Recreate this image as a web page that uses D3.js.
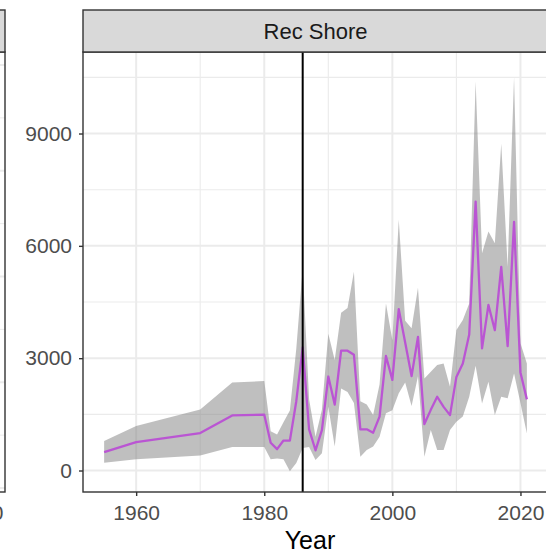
<!DOCTYPE html>
<html>
<head>
<meta charset="utf-8">
<script src="https://cdn.jsdelivr.net/npm/d3@7"></script>
<style>
  body { margin: 0; background: #fff; }
  svg { display: block; font-family: "Liberation Sans", Arial, sans-serif; }
</style>
</head>
<body>
<svg id="chart" width="546" height="555"></svg>
<script>
// values
const years = [1955, 1960, 1970, 1975, 1980, 1981, 1982, 1983, 1984, 1985, 1986, 1987, 1988, 1989,
  1990, 1991, 1992, 1993, 1994, 1995, 1996, 1997, 1998, 1999, 2000, 2001, 2002, 2003, 2004,
  2005, 2006, 2007, 2008, 2009, 2010, 2011, 2012, 2013, 2014, 2015, 2016, 2017, 2018, 2019, 2020, 2021];
const estimate = [490, 760, 1000, 1470, 1490, 740, 570, 800, 800, 1850, 3290, 1100, 540, 1080,
  2510, 1760, 3200, 3200, 3090, 1100, 1100, 1010, 1440, 3060, 2420, 4310, 3420, 2520, 3570,
  1240, 1620, 1970, 1700, 1480, 2500, 2860, 3630, 7180, 3260, 4420, 3750, 5440, 3320, 6640, 2620, 1900];
const upper = [790, 1190, 1630, 2350, 2390, 1050, 960, 1290, 1600, 3250, 5400, 1900, 900, 1620,
  3650, 2950, 4210, 4340, 5310, 1850, 1760, 1480, 2300, 4460, 3480, 6700, 4000, 3800, 4880,
  2460, 2640, 2820, 2860, 2240, 3750, 4020, 4460, 10390, 5800, 6380, 6070, 8730, 5440, 10500, 3400, 2860];
const lower = [210, 300, 400, 630, 630, 300, 320, 300, -20, 200, 600, 630, 280, 460,
  1700, 640, 2190, 2100, 1800, 370, 550, 640, 900, 1530, 1610, 2060, 2350, 1720, 2520,
  370, 1080, 550, 550, 1080, 1300, 1440, 1970, 2800, 1790, 2370, 1480, 1970, 1930, 2590, 1800, 990];

const xTicks = [1960, 1980, 2000, 2020];
const xMinor = [1970, 1990, 2010];
const yTicks = [0, 3000, 6000, 9000];
const yMinor = [1500, 4500, 7500, 10500];
const stripLabel = "Rec Shore";
const xTitle = "Year";
const markerYear = 1986;

const data = years.map((yr, i) => ({ year: yr, est: estimate[i], lo: lower[i], hi: upper[i] }));

const svg = d3.select("#chart");

// panel box
const panel = { left: 83, right: 548, top: 52, bottom: 492 };
const strip = { top: 10, bottom: 52 };

const x = d3.scaleLinear().domain([1951.7, 2024.3]).range([panel.left, panel.right]);
const y = d3.scaleLinear().domain([-574, 11177]).range([panel.bottom, panel.top]);

// neighbouring facet, only its right edge is in view
const leftY = d3.scaleLinear().domain([0, 8]).range([488, 65]);
svg.append("g").selectAll("line")
  .data(d3.range(0, 8.5, 1))
  .join("line")
  .attr("x1", -10).attr("x2", 5)
  .attr("y1", d => leftY(d)).attr("y2", d => leftY(d))
  .attr("stroke", "#EBEBEB")
  .attr("stroke-width", (d, i) => i % 2 ? 1 : 2);
svg.append("rect")
  .attr("x", -10).attr("y", panel.top).attr("width", 15).attr("height", panel.bottom - panel.top)
  .attr("fill", "none").attr("stroke", "#333333").attr("stroke-width", 1.4);
svg.append("rect")
  .attr("x", -10).attr("y", strip.top).attr("width", 15).attr("height", strip.bottom - strip.top)
  .attr("fill", "#D9D9D9").attr("stroke", "#333333").attr("stroke-width", 1.4);
svg.append("text")
  .attr("x", -20).attr("y", 520)
  .attr("text-anchor", "middle")
  .attr("font-size", 21).attr("fill", "#4D4D4D")
  .text("2020");

// grid
const grid = svg.append("g");
grid.selectAll(".ymin").data(yMinor).join("line")
  .attr("x1", panel.left).attr("x2", panel.right)
  .attr("y1", d => y(d)).attr("y2", d => y(d))
  .attr("stroke", "#EBEBEB").attr("stroke-width", 1.1);
grid.selectAll(".xmin").data(xMinor).join("line")
  .attr("y1", panel.top).attr("y2", panel.bottom)
  .attr("x1", d => x(d)).attr("x2", d => x(d))
  .attr("stroke", "#EBEBEB").attr("stroke-width", 1.1);
grid.selectAll(".ymaj").data(yTicks).join("line")
  .attr("x1", panel.left).attr("x2", panel.right)
  .attr("y1", d => y(d)).attr("y2", d => y(d))
  .attr("stroke", "#EBEBEB").attr("stroke-width", 2);
grid.selectAll(".xmaj").data(xTicks).join("line")
  .attr("y1", panel.top).attr("y2", panel.bottom)
  .attr("x1", d => x(d)).attr("x2", d => x(d))
  .attr("stroke", "#EBEBEB").attr("stroke-width", 2);

// ribbon + estimate line
const band = d3.area()
  .x(d => x(d.year))
  .y0(d => y(d.lo))
  .y1(d => y(d.hi));
svg.append("path")
  .datum(data)
  .attr("d", band)
  .attr("fill", "#808080")
  .attr("fill-opacity", 0.5);

const line = d3.line()
  .x(d => x(d.year))
  .y(d => y(d.est));
svg.append("path")
  .datum(data)
  .attr("d", line)
  .attr("fill", "none")
  .attr("stroke", "#BA55D3")
  .attr("stroke-width", 2.3)
  .attr("stroke-linejoin", "round");

svg.append("line")
  .attr("x1", x(markerYear)).attr("x2", x(markerYear))
  .attr("y1", panel.top).attr("y2", panel.bottom)
  .attr("stroke", "#000").attr("stroke-width", 2);

// panel border and strip
svg.append("rect")
  .attr("x", panel.left).attr("y", panel.top)
  .attr("width", panel.right - panel.left + 10).attr("height", panel.bottom - panel.top)
  .attr("fill", "none").attr("stroke", "#333333").attr("stroke-width", 1.4);
svg.append("rect")
  .attr("x", panel.left).attr("y", strip.top)
  .attr("width", panel.right - panel.left + 10).attr("height", strip.bottom - strip.top)
  .attr("fill", "#D9D9D9").attr("stroke", "#333333").attr("stroke-width", 1.4);
svg.append("text")
  .attr("x", (panel.left + panel.right) / 2).attr("y", (strip.top + strip.bottom) / 2)
  .attr("dy", "0.35em")
  .attr("text-anchor", "middle")
  .attr("font-size", 22).attr("fill", "#1A1A1A")
  .text(stripLabel);

// axes
const yAxis = svg.append("g")
  .attr("transform", `translate(${panel.left},0)`)
  .call(d3.axisLeft(y).tickValues(yTicks).tickSize(4).tickPadding(7).tickFormat(d3.format("d")));
const xAxis = svg.append("g")
  .attr("transform", `translate(0,${panel.bottom})`)
  .call(d3.axisBottom(x).tickValues(xTicks).tickSize(4).tickPadding(9).tickFormat(d3.format("d")));

[yAxis, xAxis].forEach(ax => {
  ax.select(".domain").remove();
  ax.selectAll(".tick line").attr("stroke", "#333333").attr("stroke-width", 1.4);
  ax.selectAll(".tick text")
    .attr("fill", "#4D4D4D")
    .attr("font-size", 21)
    .attr("font-family", "\"Liberation Sans\", Arial, sans-serif");
});

svg.append("text")
  .attr("x", 310).attr("y", 549)
  .attr("text-anchor", "middle")
  .attr("font-size", 25).attr("fill", "#000")
  .text(xTitle);
</script>
</body>
</html>
